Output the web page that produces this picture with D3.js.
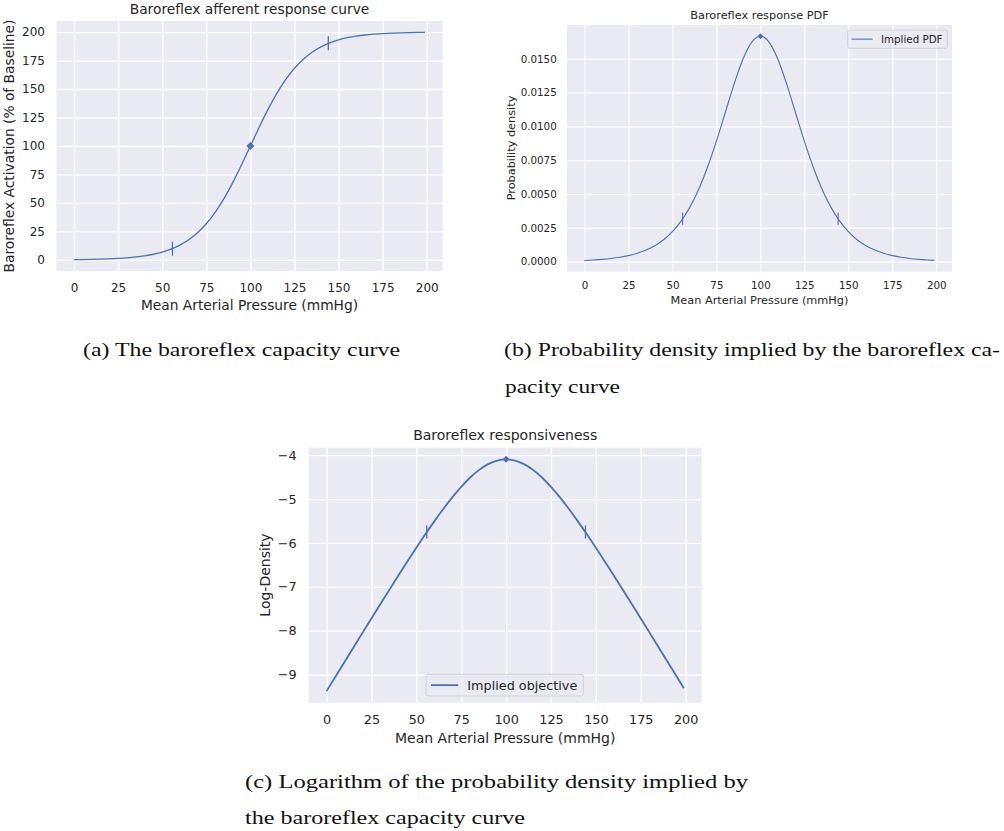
<!DOCTYPE html>
<html>
<head>
<meta charset="utf-8">
<script src="https://cdn.jsdelivr.net/npm/d3@7"></script>
<style>
body { margin: 0; background: #fff; }
svg { display: block; }
</style>
</head>
<body>
<div id="figure"></div>
<script>

// values (mean arterial pressure in mmHg)
var pressure = [0, 5, 10, 15, 20, 25, 30, 35, 40, 45, 50, 55, 60, 65, 70, 75, 80, 85, 90, 95, 100,
	105, 110, 115, 120, 125, 130, 135, 140, 145, 150, 155, 160, 165, 170, 175, 180, 185, 190, 195, 199];

var activation = [0.25, 0.35, 0.49, 0.69, 0.96, 1.34, 1.86, 2.59, 3.60, 4.99, 6.89, 9.49, 12.99, 17.68, 23.84, 31.77, 41.72, 53.79, 67.85, 83.49, 100,
	116.51, 132.15, 146.21, 158.28, 168.23, 176.16, 182.32, 187.01, 190.52, 193.11, 195.01, 196.40, 197.41, 198.14, 198.66, 199.04, 199.31, 199.51, 199.65, 199.73];

var density = [0.000085, 0.000118, 0.000164, 0.000229, 0.000319, 0.000443, 0.000615, 0.000852, 0.001178, 0.001620, 0.002217, 0.003012, 0.004050, 0.005372, 0.007000, 0.008909, 0.011006, 0.013108, 0.014944, 0.016212, 0.016667,
	0.016212, 0.014944, 0.013108, 0.011006, 0.008909, 0.007000, 0.005372, 0.004050, 0.003012, 0.002217, 0.001620, 0.001178, 0.000852, 0.000615, 0.000443, 0.000319, 0.000229, 0.000164, 0.000118, 0.000090];

var logDensity = [-9.378, -9.045, -8.713, -8.382, -8.051, -7.722, -7.393, -7.067, -6.744, -6.425, -6.112, -5.805, -5.509, -5.227, -4.962, -4.721, -4.509, -4.335, -4.204, -4.122, -4.094,
	-4.122, -4.204, -4.335, -4.509, -4.721, -4.962, -5.227, -5.509, -5.805, -6.112, -6.425, -6.744, -7.067, -7.393, -7.722, -8.051, -8.382, -8.713, -9.045, -9.311];

// quantile marks and centre point
var markPressure = [55.8, 144.2];
var markActivation = [9.9, 190.1];
var markDensity = [0.00317, 0.00317];
var markLog = [-5.75, -5.75];
var centrePressure = 100;
var centreActivation = 100;
var centreDensity = 0.016667;
var centreLog = -4.094;

// tick labels
var pressureTicks = [0, 25, 50, 75, 100, 125, 150, 175, 200];
var activationTicks = [0, 25, 50, 75, 100, 125, 150, 175, 200];
var densityTicks = [0, 0.0025, 0.005, 0.0075, 0.01, 0.0125, 0.015];
var logTicks = [-9, -8, -7, -6, -5, -4];

var BLUE = "#4c72b0";
var INK = "#262626";
var FONT = "DejaVu Sans, sans-serif";

var svg = d3.select("#figure")
	.append("svg")
	.attr("width", 1004)
	.attr("height", 831);

function drawPanel(p) {

	var xs = pressure;
	var w = p.right - p.left, h = p.bottom - p.top;

	var x = d3.scaleLinear().domain([-9.95, 208.95]).range([p.left, p.right]);
	var y = d3.scaleLinear().domain(p.yDomain).range([p.bottom, p.top]);

	var g = svg.append("g");

	g.append("rect")
		.attr("x", p.left).attr("y", p.top)
		.attr("width", w).attr("height", h)
		.attr("fill", "#eaeaf2");

	// grid
	g.append("g")
		.attr("transform", "translate(0," + p.bottom + ")")
		.call(d3.axisBottom(x).tickValues(pressureTicks).tickSize(-h).tickFormat(""))
		.call(function(s){ s.select(".domain").remove(); })
		.selectAll("line").attr("stroke", "#fff").attr("stroke-width", p.grid);
	g.append("g")
		.attr("transform", "translate(" + p.left + ",0)")
		.call(d3.axisLeft(y).tickValues(p.yTicks).tickSize(-w).tickFormat(""))
		.call(function(s){ s.select(".domain").remove(); })
		.selectAll("line").attr("stroke", "#fff").attr("stroke-width", p.grid);

	// tick labels
	var xa = g.append("g")
		.attr("transform", "translate(0," + p.bottom + ")")
		.call(d3.axisBottom(x).tickValues(pressureTicks).tickSize(0).tickPadding(p.xPad).tickFormat(d3.format("d")));
	var ya = g.append("g")
		.attr("transform", "translate(" + p.left + ",0)")
		.call(d3.axisLeft(y).tickValues(p.yTicks).tickSize(0).tickPadding(p.yPad).tickFormat(d3.format(p.yFormat)));
	[xa, ya].forEach(function(a){
		a.select(".domain").remove();
		a.attr("font-family", FONT).attr("font-size", p.tickFs);
		a.selectAll("text").attr("fill", INK);
	});

	// titles and labels
	g.append("text")
		.attr("x", (p.left + p.right) / 2).attr("y", p.titleY)
		.attr("text-anchor", "middle")
		.attr("font-family", FONT).attr("font-size", p.labelFs).attr("fill", INK)
		.text(p.title);
	g.append("text")
		.attr("x", (p.left + p.right) / 2).attr("y", p.xLabelY)
		.attr("text-anchor", "middle")
		.attr("font-family", FONT).attr("font-size", p.labelFs).attr("fill", INK)
		.text("Mean Arterial Pressure (mmHg)");
	g.append("text")
		.attr("transform", "translate(" + p.yLabelX + "," + p.yLabelY + ") rotate(-90)")
		.attr("text-anchor", "middle")
		.attr("font-family", FONT).attr("font-size", p.labelFs).attr("fill", INK)
		.text(p.yLabel);

	// curve
	var line = d3.line()
		.x(function(d, i){ return x(xs[i]); })
		.y(function(d){ return y(d); })
		.curve(d3.curveMonotoneX);
	g.append("path")
		.datum(p.values)
		.attr("d", line)
		.attr("fill", "none")
		.attr("stroke", BLUE)
		.attr("stroke-width", p.lw);

	// quantile marks
	g.selectAll(".mark")
		.data(markPressure)
		.enter().append("line")
		.attr("x1", function(d){ return x(d); })
		.attr("x2", function(d){ return x(d); })
		.attr("y1", function(d, i){ return y(p.marks[i]) - p.markLen; })
		.attr("y2", function(d, i){ return y(p.marks[i]) + p.markLen; })
		.attr("stroke", BLUE)
		.attr("stroke-width", p.markLw);

	// centre diamond
	g.append("path")
		.attr("d", d3.symbol(d3.symbolSquare, p.diamond)())
		.attr("transform", "translate(" + x(centrePressure) + "," + y(p.centre) + ") rotate(45)")
		.attr("fill", BLUE);

	// legend
	if (p.legend) {
		var L = p.legend;
		g.append("rect")
			.attr("x", L.x).attr("y", L.y)
			.attr("width", L.w).attr("height", L.h)
			.attr("rx", 2)
			.attr("fill", "#eaeaf2").attr("fill-opacity", 0.8)
			.attr("stroke", "#cccccc").attr("stroke-width", 0.8);
		g.append("line")
			.attr("x1", L.x + L.lineX0).attr("x2", L.x + L.lineX1)
			.attr("y1", L.y + L.h / 2).attr("y2", L.y + L.h / 2)
			.attr("stroke", BLUE).attr("stroke-width", p.lw);
		g.append("text")
			.attr("x", L.x + L.textX).attr("y", L.y + L.h / 2)
			.attr("dy", "0.35em")
			.attr("font-family", FONT).attr("font-size", p.tickFs).attr("fill", INK)
			.text(L.text);
	}
}

drawPanel({
	left: 56.5, right: 442.5, top: 21, bottom: 271,
	yDomain: [-9.72, 209.7], yTicks: activationTicks, yFormat: "d",
	values: activation, marks: markActivation, centre: centreActivation,
	title: "Baroreflex afferent response curve", titleY: 13.5,
	yLabel: "Baroreflex Activation (% of Baseline)", yLabelX: 14, yLabelY: 146,
	xLabelY: 310,
	tickFs: 12, labelFs: 13.8, xPad: 12.8, yPad: 11.5,
	lw: 1.3, grid: 1.3, markLw: 1.3, markLen: 7, diamond: 32
});

drawPanel({
	left: 567, right: 952, top: 25, bottom: 271.7,
	yDomain: [-0.000744, 0.017496], yTicks: densityTicks, yFormat: ".4f",
	values: density, marks: markDensity, centre: centreDensity,
	title: "Baroreflex response PDF", titleY: 18.5,
	yLabel: "Probability density", yLabelX: 514.6, yLabelY: 148,
	xLabelY: 304,
	tickFs: 10.3, labelFs: 11.3, xPad: 10.3, yPad: 10.3,
	lw: 1.1, grid: 1.1, markLw: 1.1, markLen: 6, diamond: 18,
	legend: { x: 847.7, y: 30, w: 99.6, h: 18.3, lineX0: 4, lineX1: 25, textX: 33.3, text: "Implied PDF" }
});

drawPanel({
	left: 308.7, right: 701.7, top: 447.7, bottom: 702.7,
	yDomain: [-9.642, -3.83], yTicks: logTicks, yFormat: "d",
	values: logDensity, marks: markLog, centre: centreLog,
	title: "Baroreflex responsiveness", titleY: 440,
	yLabel: "Log-Density", yLabelX: 270, yLabelY: 575,
	xLabelY: 742.7,
	tickFs: 12.8, labelFs: 14, xPad: 12.5, yPad: 12,
	lw: 1.8, grid: 1.3, markLw: 1.3, markLen: 6.5, diamond: 24,
	legend: { x: 426, y: 674.3, w: 157.3, h: 21.7, lineX0: 5, lineX1: 32.3, textX: 41.3, text: "Implied objective" }
});

// LaTeX sub-captions
var captions = [
	{ x: 83, y: 356, text: "(a) The baroreflex capacity curve", len: 317 },
	{ x: 504, y: 356, text: "(b) Probability density implied by the baroreflex ca-", len: 496 },
	{ x: 505, y: 393, text: "pacity curve", len: 115 },
	{ x: 245, y: 788, text: "(c) Logarithm of the probability density implied by", len: 503 },
	{ x: 245, y: 824, text: "the baroreflex capacity curve", len: 280 }
];

svg.selectAll(".caption")
	.data(captions)
	.enter().append("text")
	.attr("class", "caption")
	.attr("x", function(d){ return d.x; })
	.attr("y", function(d){ return d.y; })
	.attr("textLength", function(d){ return d.len; })
	.attr("lengthAdjust", "spacingAndGlyphs")
	.attr("font-family", "Liberation Serif, serif")
	.attr("font-size", 18)
	.attr("fill", "#111")
	.text(function(d){ return d.text; });

</script>
</body>
</html>
